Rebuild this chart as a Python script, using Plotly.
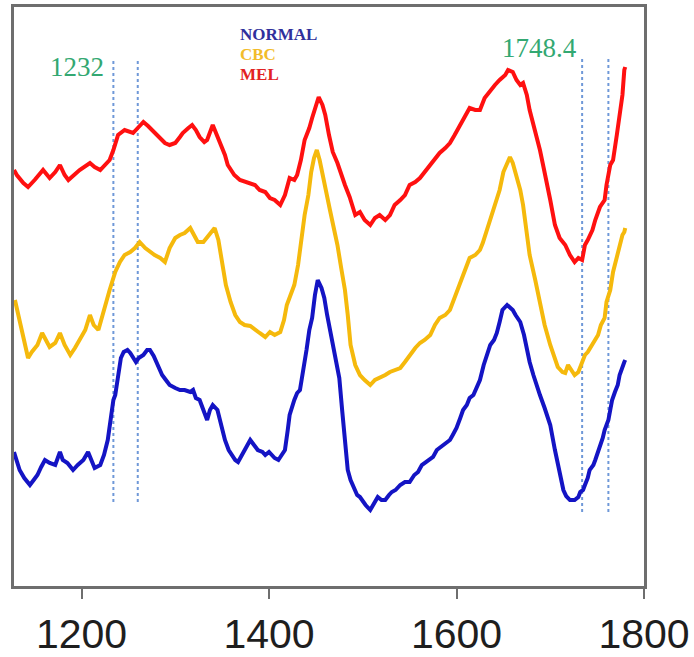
import plotly.graph_objects as go

# Wavenumber (cm^-1) and intensity (a.u., offset spectra)
mel_x = [1128,1131,1138,1143,1150,1159,1166,1172,1177,1182,1186,1191,1198,1209,1214,1220,1225,1230,1234,1239,
         1246,1255,1260,1266,1271,1275,1282,1289,1294,1300,1305,1308,1314,1318,1322,1326,1331,1334,1340,1343,
         1348,1353,1356,1363,1369,1377,1385,1390,1396,1401,1406,1412,1417,1422,1427,1430,1434,1438,1443,1446,
         1450,1453,1457,1460,1464,1468,1473,1476,1481,1486,1492,1497,1502,1508,1513,1518,1524,1529,1534,1540,
         1545,1550,1556,1561,1566,1572,1577,1582,1588,1593,1598,1604,1609,1614,1620,1625,1630,1636,1641,1646,
         1652,1655,1660,1664,1668,1671,1675,1678,1684,1689,1693,1697,1700,1705,1710,1716,1721,1726,1730,1734,
         1737,1740,1745,1748,1753,1758,1760,1764,1767,1771,1774,1777,1779,1780]
mel_y = [4.16,4.11,4.03,3.99,4.06,4.16,4.08,4.14,4.21,4.11,4.06,4.10,4.16,4.23,4.19,4.16,4.21,4.26,4.36,4.51,
         4.56,4.53,4.58,4.64,4.60,4.56,4.49,4.43,4.41,4.43,4.49,4.53,4.58,4.61,4.56,4.49,4.44,4.46,4.61,4.54,
         4.41,4.31,4.21,4.11,4.06,4.04,4.01,3.96,3.94,3.88,3.86,3.81,3.91,4.08,4.06,4.11,4.26,4.46,4.58,4.68,
         4.81,4.89,4.81,4.71,4.51,4.34,4.23,4.14,4.01,3.89,3.71,3.74,3.66,3.61,3.68,3.71,3.66,3.71,3.81,3.86,
         3.91,4.01,4.04,4.08,4.14,4.21,4.26,4.33,4.38,4.43,4.51,4.61,4.71,4.78,4.76,4.76,4.88,4.96,5.01,5.06,
         5.11,5.16,5.14,5.06,5.01,5.03,4.91,4.76,4.56,4.36,4.18,4.01,3.86,3.61,3.48,3.41,3.31,3.24,3.28,3.26,
         3.41,3.46,3.56,3.66,3.79,3.86,4.01,4.21,4.26,4.51,4.71,4.91,5.16,5.19]

cbc_x = [1129,1131,1134,1138,1143,1147,1153,1158,1162,1166,1172,1177,1182,1188,1193,1198,1204,1209,1213,1218,
         1223,1230,1236,1241,1246,1252,1257,1262,1268,1273,1278,1284,1289,1294,1300,1305,1310,1316,1320,1324,
         1330,1335,1339,1342,1346,1350,1354,1359,1364,1369,1374,1380,1385,1390,1396,1401,1406,1412,1416,1419,
         1423,1427,1431,1435,1438,1442,1445,1448,1451,1454,1458,1461,1465,1470,1473,1477,1481,1484,1487,1492,
         1497,1502,1508,1513,1518,1524,1529,1534,1540,1545,1550,1556,1561,1566,1572,1577,1582,1588,1593,1598,
         1602,1606,1609,1614,1620,1625,1628,1633,1636,1641,1646,1650,1654,1657,1660,1663,1668,1671,1675,1678,
         1684,1689,1694,1700,1705,1708,1713,1716,1719,1722,1726,1730,1733,1737,1740,1743,1748,1751,1754,1758,
         1760,1764,1767,1771,1774,1777,1779,1780]
cbc_y = [2.86,2.78,2.64,2.51,2.28,2.34,2.41,2.53,2.46,2.39,2.43,2.53,2.41,2.31,2.38,2.46,2.56,2.71,2.61,2.56,
         2.74,2.96,3.14,3.24,3.31,3.34,3.38,3.44,3.38,3.34,3.31,3.28,3.24,3.38,3.48,3.51,3.53,3.58,3.51,3.44,
         3.44,3.50,3.54,3.58,3.46,3.24,3.01,2.84,2.71,2.64,2.61,2.60,2.56,2.53,2.49,2.54,2.51,2.54,2.66,2.81,
         2.91,3.01,3.21,3.51,3.71,3.91,4.14,4.28,4.36,4.26,4.06,3.91,3.76,3.54,3.41,3.18,2.96,2.71,2.41,2.21,
         2.11,2.06,2.01,2.06,2.08,2.11,2.14,2.16,2.18,2.24,2.31,2.38,2.43,2.46,2.51,2.61,2.68,2.71,2.76,2.88,
         2.98,3.08,3.16,3.28,3.31,3.36,3.43,3.58,3.66,3.81,3.96,4.14,4.24,4.29,4.23,4.14,3.96,3.81,3.56,3.31,
         3.06,2.81,2.61,2.41,2.26,2.19,2.14,2.13,2.21,2.16,2.11,2.14,2.21,2.31,2.34,2.39,2.46,2.51,2.61,2.68,
         2.84,2.96,3.14,3.28,3.38,3.51,3.54,3.58]

normal_x = [1128,1131,1134,1139,1142,1145,1149,1153,1157,1161,1166,1172,1177,1180,1185,1191,1196,1202,1207,1211,
            1214,1220,1224,1228,1231,1234,1236,1239,1242,1245,1249,1252,1255,1258,1261,1266,1270,1273,1277,1281,
            1286,1290,1294,1300,1305,1310,1316,1319,1322,1326,1331,1334,1337,1340,1345,1349,1353,1357,1361,1364,
            1367,1371,1374,1380,1384,1388,1393,1396,1400,1403,1406,1410,1414,1417,1420,1422,1427,1430,1433,1436,
            1440,1443,1446,1449,1452,1456,1459,1462,1465,1468,1472,1475,1478,1481,1484,1487,1491,1494,1497,1500,
            1503,1508,1512,1516,1520,1524,1528,1531,1535,1540,1545,1550,1555,1559,1563,1566,1570,1575,1579,1582,
            1587,1590,1593,1596,1600,1604,1607,1611,1614,1618,1622,1625,1629,1633,1636,1640,1643,1646,1649,1654,
            1657,1660,1663,1668,1672,1675,1678,1682,1686,1689,1694,1700,1705,1710,1714,1717,1721,1726,1730,1732,
            1735,1737,1740,1742,1746,1748,1751,1753,1756,1758,1762,1764,1766,1769,1772,1774,1777,1779,1780]
normal_y = [1.34,1.26,1.16,1.08,1.04,1.01,1.06,1.11,1.19,1.26,1.23,1.21,1.34,1.26,1.23,1.16,1.21,1.26,1.34,1.26,
            1.18,1.21,1.31,1.46,1.66,1.86,1.91,2.11,2.28,2.34,2.36,2.33,2.29,2.24,2.28,2.31,2.36,2.36,2.30,2.21,
            2.11,2.06,2.01,1.98,1.96,1.96,1.94,1.96,1.88,1.86,1.74,1.66,1.76,1.81,1.76,1.61,1.46,1.36,1.31,1.26,
            1.24,1.31,1.36,1.46,1.41,1.36,1.34,1.31,1.34,1.31,1.28,1.26,1.31,1.36,1.56,1.71,1.86,1.93,1.96,2.11,
            2.36,2.56,2.68,2.91,3.06,2.98,2.88,2.71,2.56,2.44,2.26,2.08,1.76,1.41,1.16,1.06,0.98,0.91,0.89,0.84,
            0.81,0.76,0.83,0.89,0.86,0.86,0.91,0.94,0.96,1.01,1.04,1.04,1.11,1.14,1.21,1.23,1.26,1.29,1.36,1.38,
            1.41,1.44,1.46,1.51,1.58,1.68,1.76,1.81,1.88,1.91,2.01,2.06,2.21,2.34,2.41,2.46,2.53,2.64,2.76,2.81,
            2.79,2.76,2.71,2.64,2.51,2.36,2.24,2.11,1.98,1.91,1.78,1.61,1.36,1.11,0.96,0.90,0.86,0.86,0.89,0.94,
            0.96,1.01,1.08,1.16,1.21,1.26,1.34,1.41,1.48,1.56,1.66,1.76,1.86,1.94,2.01,2.11,2.21,2.24,2.26]

# dotted marker lines: (wavenumber, bottom, top)
marker_x = [1234, 1260, 1734, 1762]
marker_y0 = [0.84, 0.84, 0.74, 0.74]
marker_y1 = [5.28, 5.28, 5.29, 5.29]

legend_names = ["NORMAL", "CBC", "MEL"]
peak_labels = ["1232", "1748.4"]
x_ticks = [1200, 1400, 1600, 1800]

fig = go.Figure()

for xv, a, b in zip(marker_x, marker_y0, marker_y1):
    fig.add_trace(go.Scatter(x=[xv, xv], y=[a, b], mode="lines",
                             line=dict(color="#6f98d8", width=2, dash="dot"),
                             showlegend=False, hoverinfo="skip"))

fig.add_trace(go.Scatter(x=normal_x, y=normal_y, mode="lines", name="NORMAL",
                         line=dict(color="#1414c4", width=4)))
fig.add_trace(go.Scatter(x=cbc_x, y=cbc_y, mode="lines", name="CBC",
                         line=dict(color="#f5b90c", width=4)))
fig.add_trace(go.Scatter(x=mel_x, y=mel_y, mode="lines", name="MEL",
                         line=dict(color="#ff1010", width=4)))

legend_colors = ["#30309c", "#f2bc2a", "#e22222"]
legend_y = [5.52, 5.32, 5.12]
for name, c, yy in zip(legend_names, legend_colors, legend_y):
    fig.add_annotation(x=1367, y=yy, text="<b>%s</b>" % name, showarrow=False,
                       xanchor="left", yanchor="middle",
                       font=dict(family="Liberation Serif", size=17, color=c))

fig.add_annotation(x=1195, y=5.19, text=peak_labels[0], showarrow=False,
                   xanchor="center", yanchor="middle",
                   font=dict(family="Liberation Serif", size=27, color="#33a872"))
fig.add_annotation(x=1688, y=5.38, text=peak_labels[1], showarrow=False,
                   xanchor="center", yanchor="middle",
                   font=dict(family="Liberation Serif", size=27, color="#33a872"))

fig.update_layout(
    width=694, height=657,
    margin=dict(l=14, r=50, t=7, b=71),
    paper_bgcolor="white", plot_bgcolor="white",
    showlegend=False,
    xaxis=dict(range=[1128, 1800], tickvals=x_ticks, ticktext=[str(v) for v in x_ticks],
               automargin=False,
               showgrid=False, zeroline=False, showline=True, mirror=True,
               linecolor="#6e6e6e", linewidth=2.5,
               ticks="outside", ticklen=10, tickwidth=2, tickcolor="#6e6e6e",
               tickfont=dict(family="Liberation Sans", size=41, color="#1e1e1e")),
    yaxis=dict(range=[0, 5.79], showgrid=False, zeroline=False, showticklabels=False,
               automargin=False,
               showline=True, mirror=True, linecolor="#6e6e6e", linewidth=2.5, ticks=""),
)

fig.write_html("out.html")
